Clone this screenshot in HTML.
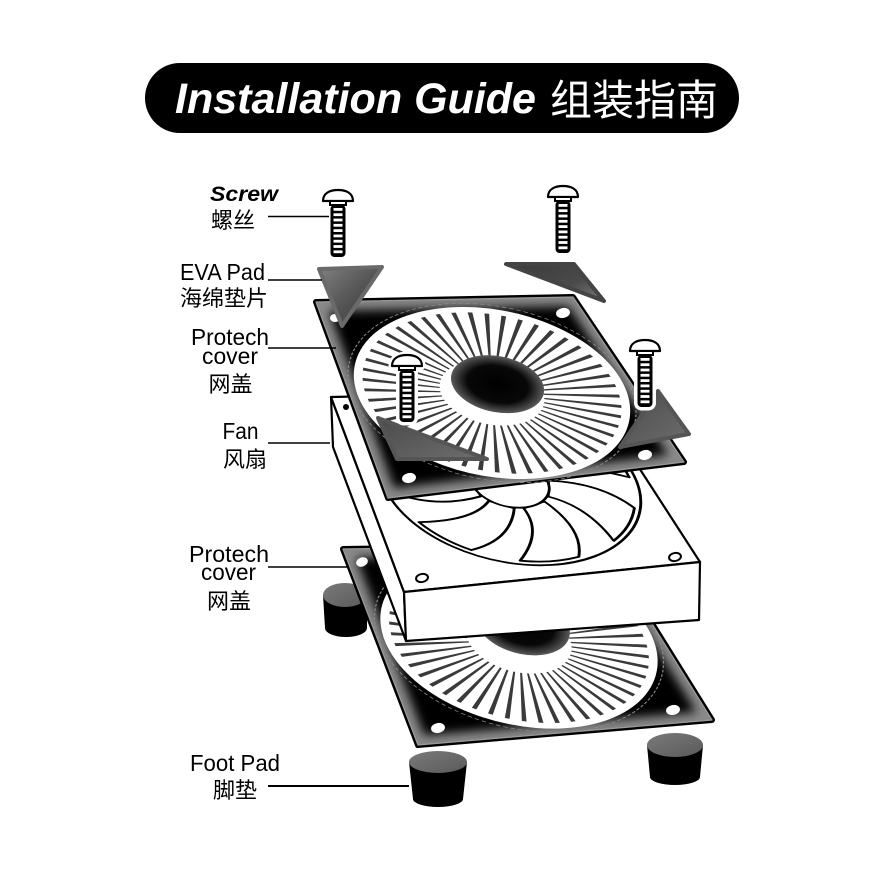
<!DOCTYPE html>
<html>
<head>
<meta charset="utf-8">
<style>
html,body{margin:0;padding:0;background:#fff;}
svg{display:block;}
</style>
</head>
<body>
<svg width="886" height="886" viewBox="0 0 886 886" xmlns="http://www.w3.org/2000/svg">
<defs>
  <filter id="blur5" x="-20%" y="-20%" width="140%" height="140%"><feGaussianBlur stdDeviation="5"/></filter>
  <radialGradient id="hubG" cx="0.5" cy="0.5" r="0.5">
    <stop offset="0" stop-color="#000"/>
    <stop offset="0.65" stop-color="#080808"/>
    <stop offset="1" stop-color="#5a5a5a"/>
  </radialGradient>
  <linearGradient id="padA" x1="0" y1="0" x2="1" y2="1">
    <stop offset="0" stop-color="#808080"/>
    <stop offset="0.5" stop-color="#555"/>
    <stop offset="1" stop-color="#3a3a3a"/>
  </linearGradient>
  <linearGradient id="padB" x1="0" y1="0" x2="1" y2="1">
    <stop offset="0" stop-color="#3a3a3a"/>
    <stop offset="0.6" stop-color="#4a4a4a"/>
    <stop offset="1" stop-color="#7a7a7a"/>
  </linearGradient>
  <linearGradient id="padC" x1="0" y1="0" x2="1" y2="1">
    <stop offset="0" stop-color="#4a4a4a"/>
    <stop offset="1" stop-color="#6e6e6e"/>
  </linearGradient>
  <linearGradient id="footTop" x1="0" y1="0" x2="1" y2="1">
    <stop offset="0" stop-color="#7a7a7a"/>
    <stop offset="1" stop-color="#5a5a5a"/>
  </linearGradient>
  <clipPath id="cpTop"><polygon points="316,302 573,297 684,462 388,498"/></clipPath>
  <clipPath id="cpBot"><polygon points="343,549 603,545 712,720 418,745"/></clipPath>

  <path id="blade" d="M28,0 Q64,6 78.5,35 A86,86 0 0 1 52,68.5 Q46,30 22,17 Z"/>

  <g id="screwShape">
    <path d="M-15,11 C-15,3 -8,0 0,0 C8,0 15,3 15,11 Z"/>
    <rect x="-8" y="11" width="16" height="4"/>
    <rect x="-7.5" y="15" width="15" height="52" rx="4"/>
  </g>
  <g id="screw">
    <path d="M-15,11 C-15,3 -8,0 0,0 C8,0 15,3 15,11 Z" fill="#fff" stroke="#000" stroke-width="2.2" stroke-linejoin="round"/>
    <rect x="-8" y="11" width="16" height="4" fill="#fff" stroke="#000" stroke-width="2"/>
    <rect x="-7.5" y="15" width="15" height="52" rx="4" fill="#000"/>
    <g fill="#fff">
      <rect x="-4.5" y="18" width="9" height="2.8"/>
      <rect x="-4.5" y="23.3" width="9" height="2.8"/>
      <rect x="-4.5" y="28.6" width="9" height="2.8"/>
      <rect x="-4.5" y="33.9" width="9" height="2.8"/>
      <rect x="-4.5" y="39.2" width="9" height="2.8"/>
      <rect x="-4.5" y="44.5" width="9" height="2.8"/>
      <rect x="-4.5" y="49.8" width="9" height="2.8"/>
      <rect x="-4.5" y="55.1" width="9" height="2.8"/>
      <rect x="-4.5" y="60.4" width="9" height="2.8"/>
    </g>
  </g>
</defs>

<!-- Title -->
<rect x="145" y="63" width="594" height="70" rx="35" fill="#000"/>
<text x="175" y="113" font-family="'Liberation Sans', Arial, sans-serif" font-size="43" font-weight="bold" font-style="italic" fill="#fff" textLength="361" lengthAdjust="spacingAndGlyphs">Installation Guide</text>
<text x="550" y="115" font-family="'Liberation Sans','Noto Sans CJK SC',sans-serif" font-size="42" fill="#fff">组装指南</text>

<!-- Back foot pad -->
<path d="M323,595 L325,628 A21,9 0 0 0 367,628 L367,595 Z" fill="#000"/>
<ellipse cx="345" cy="595" rx="22" ry="12" fill="url(#footTop)"/>

<!-- Bottom cover -->
<polygon points="343,549 603,545 712,720 418,745" fill="#000" stroke="#000" stroke-width="6" stroke-linejoin="round"/>
<g clip-path="url(#cpBot)">
  <polygon points="343,549 603,545 712,720 418,745" fill="none" stroke="#8a8a8a" stroke-width="18" filter="url(#blur5)"/>
</g>
<polygon points="343,549 603,545 712,720 418,745" fill="none" stroke="#9a9a9a" stroke-width="1.2" stroke-linejoin="round"/>
<g transform="matrix(1.385,-0.07,0.46,0.93,519,640)">
  <circle r="99" fill="none" stroke="#8a8a8a" stroke-width="0.8" stroke-dasharray="3 2"/>
  <circle r="95" fill="#fff"/>
  <circle r="62.5" fill="none" stroke="#3a3a3a" stroke-width="53" stroke-dasharray="2.3 5.881"/>
  <circle cx="8" cy="-15" r="32" fill="url(#hubG)"/>
</g>
<ellipse cx="362" cy="562" rx="6" ry="4.5" fill="#fff" transform="rotate(-20 362 562)"/>
<ellipse cx="438" cy="728" rx="7" ry="5" fill="#fff" transform="rotate(-10 438 728)"/>
<ellipse cx="673" cy="710" rx="7" ry="5" fill="#fff" transform="rotate(-10 673 710)"/>

<!-- Front foot pads -->
<path d="M409,762 L413,799 A25,8 0 0 0 463,799 L467,762 Z" fill="#000"/>
<ellipse cx="438" cy="762" rx="29" ry="11" fill="url(#footTop)"/>
<path d="M647,745 L650,777 A25,8 0 0 0 700,777 L703,745 Z" fill="#000"/>
<ellipse cx="675" cy="745" rx="28" ry="12" fill="url(#footTop)"/>

<!-- Fan box -->
<polygon points="331,397 333,447 406,641 404,592" fill="#fff" stroke="#000" stroke-width="2.2" stroke-linejoin="round"/>
<polygon points="331,397 590,392 700,562 404,592" fill="#fff" stroke="#000" stroke-width="2.2" stroke-linejoin="round"/>
<g transform="matrix(1.375,-0.0875,0.47,0.91,510,483)" stroke="#000" stroke-width="2" fill="#fff" stroke-linejoin="round">
  <circle r="90"/>
  <use href="#blade"/>
  <use href="#blade" transform="rotate(51.43)"/>
  <use href="#blade" transform="rotate(102.86)"/>
  <use href="#blade" transform="rotate(154.29)"/>
  <use href="#blade" transform="rotate(205.71)"/>
  <use href="#blade" transform="rotate(257.14)"/>
  <use href="#blade" transform="rotate(308.57)"/>
  <circle r="27"/>
</g>
<polygon points="404,592 700,562 699,620 406,641" fill="#fff" stroke="#000" stroke-width="2.2" stroke-linejoin="round"/>
<ellipse cx="422" cy="578" rx="6" ry="4" fill="#fff" stroke="#000" stroke-width="2" transform="rotate(-10 422 578)"/>
<ellipse cx="675" cy="557" rx="6" ry="4" fill="#fff" stroke="#000" stroke-width="2" transform="rotate(-10 675 557)"/>
<ellipse cx="346" cy="407" rx="3" ry="3" fill="#000"/>

<!-- Top cover -->
<polygon points="316,302 573,297 684,462 388,498" fill="#000" stroke="#000" stroke-width="6" stroke-linejoin="round"/>
<g clip-path="url(#cpTop)">
  <polygon points="316,302 573,297 684,462 388,498" fill="none" stroke="#8a8a8a" stroke-width="18" filter="url(#blur5)"/>
</g>
<polygon points="316,302 573,297 684,462 388,498" fill="none" stroke="#9a9a9a" stroke-width="1.2" stroke-linejoin="round"/>
<g transform="matrix(1.38,-0.10,0.46,0.90,492,393)">
  <circle r="99" fill="none" stroke="#8a8a8a" stroke-width="0.8" stroke-dasharray="3 2"/>
  <circle r="95" fill="#fff"/>
  <circle r="62.5" fill="none" stroke="#3a3a3a" stroke-width="53" stroke-dasharray="2.3 5.881"/>
  <circle cx="7" cy="-9" r="32" fill="url(#hubG)"/>
</g>
<ellipse cx="335" cy="318" rx="5" ry="4" fill="#fff"/>
<ellipse cx="563" cy="313" rx="7" ry="5" fill="#fff" transform="rotate(-10 563 313)"/>
<ellipse cx="645" cy="455" rx="7" ry="5" fill="#fff" transform="rotate(-10 645 455)"/>
<ellipse cx="409" cy="478" rx="7" ry="5" fill="#fff" transform="rotate(-10 409 478)"/>

<!-- Lower EVA pads -->
<polygon points="378,418 397,459 487,459" fill="url(#padC)" stroke="#555" stroke-width="4" stroke-linejoin="round"/>
<polygon points="658,391 689,434 620,447" fill="url(#padC)" stroke="#555" stroke-width="4" stroke-linejoin="round"/>

<!-- Middle screws -->
<use href="#screwShape" x="407" y="355" fill="#fff" stroke="#fff" stroke-width="7" stroke-linejoin="round"/>
<use href="#screw" x="407" y="355"/>
<use href="#screwShape" x="645" y="340" fill="#fff" stroke="#fff" stroke-width="7" stroke-linejoin="round"/>
<use href="#screw" x="645" y="340"/>

<!-- Top EVA pads -->
<polygon points="319,269 382,267 342,326" fill="url(#padA)" stroke="#6a6a6a" stroke-width="4" stroke-linejoin="round"/>
<polygon points="506,264 574,264 604,301" fill="url(#padB)" stroke="#444" stroke-width="4" stroke-linejoin="round"/>

<!-- Top screws -->
<use href="#screw" x="338" y="190"/>
<use href="#screw" x="563" y="186"/>

<!-- Leader lines -->
<g stroke="#000" stroke-width="1.6">
  <line x1="268" y1="216.5" x2="329" y2="216.5"/>
  <line x1="268" y1="280" x2="322" y2="280"/>
  <line x1="268" y1="348" x2="336" y2="348"/>
  <line x1="268" y1="443" x2="330" y2="443"/>
  <line x1="268" y1="567" x2="348" y2="567"/>
  <line x1="268" y1="786" x2="409" y2="786" stroke-width="2"/>
</g>

<!-- Labels -->
<g font-family="'Liberation Sans','Noto Sans CJK SC',sans-serif" fill="#000" text-anchor="middle">
  <text x="244" y="201" font-size="21" font-weight="bold" font-style="italic" textLength="68" lengthAdjust="spacingAndGlyphs">Screw</text>
  <text x="233" y="228" font-size="22">螺丝</text>
  <text x="222.5" y="280" font-size="23" textLength="85" lengthAdjust="spacingAndGlyphs">EVA Pad</text>
  <text x="224" y="306" font-size="22">海绵垫片</text>
  <text x="230" y="345" font-size="23" textLength="78" lengthAdjust="spacingAndGlyphs">Protech</text>
  <text x="230" y="364" font-size="23" textLength="56" lengthAdjust="spacingAndGlyphs">cover</text>
  <text x="230.5" y="392" font-size="22">网盖</text>
  <text x="240.5" y="439" font-size="23" textLength="36" lengthAdjust="spacingAndGlyphs">Fan</text>
  <text x="245" y="467" font-size="22">风扇</text>
  <text x="229" y="562" font-size="23" textLength="80" lengthAdjust="spacingAndGlyphs">Protech</text>
  <text x="228.5" y="580" font-size="23" textLength="55" lengthAdjust="spacingAndGlyphs">cover</text>
  <text x="229" y="609" font-size="22">网盖</text>
  <text x="235" y="771" font-size="23.5" textLength="90" lengthAdjust="spacingAndGlyphs">Foot Pad</text>
  <text x="235" y="798" font-size="22">脚垫</text>
</g>
</svg>
</body>
</html>
